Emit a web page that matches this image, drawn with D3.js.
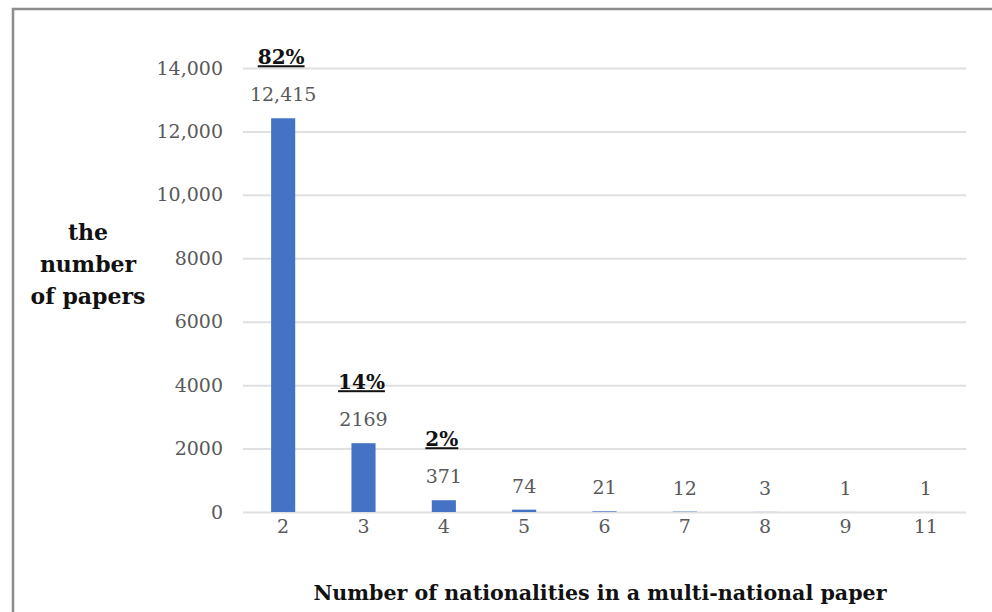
<!DOCTYPE html>
<html>
<head>
<meta charset="utf-8">
<script src="https://cdn.jsdelivr.net/npm/d3@7"></script>
<style>
  body { margin: 0; background: #fff; }
  svg { display: block; }
</style>
</head>
<body>
<div id="chart"></div>
<script>
const categories = ["2", "3", "4", "5", "6", "7", "8", "9", "11"];
const paperCounts = [12415, 2169, 371, 74, 21, 12, 3, 1, 1];
const countLabels = ["12,415", "2169", "371", "74", "21", "12", "3", "1", "1"];
const shareLabels = ["82%", "14%", "2%", "", "", "", "", "", ""];
const yTicks = [0, 2000, 4000, 6000, 8000, 10000, 12000, 14000];
const yTickLabels = ["0", "2000", "4000", "6000", "8000", "10,000", "12,000", "14,000"];
const yTitleLines = ["the", "number", "of papers"];
const xTitle = "Number of nationalities in a multi-national paper";

const width = 992, height = 612;
const plot = { left: 243, right: 966, top: 68, bottom: 512 };
const serif = "'DejaVu Serif', 'Liberation Serif', serif";

const svg = d3.select("#chart").append("svg")
  .attr("width", width)
  .attr("height", height);

// outer frame, runs off the right and bottom edges
svg.append("rect")
  .attr("x", 13).attr("y", 9)
  .attr("width", width).attr("height", height)
  .attr("fill", "none")
  .attr("stroke", "#8c8c8c")
  .attr("stroke-width", 2.5);

const x = d3.scaleBand()
  .domain(categories)
  .range([plot.left, plot.right])
  .paddingInner(0.7)
  .paddingOuter(0.35);

const y = d3.scaleLinear()
  .domain([0, 14000])
  .range([plot.bottom, plot.top]);

// gridlines + y labels
const yAxis = svg.append("g")
  .attr("transform", "translate(" + plot.left + ",0)")
  .call(d3.axisLeft(y).tickValues(yTicks)
    .tickSize(-(plot.right - plot.left))
    .tickPadding(20)
    .tickFormat(function(d, i) { return yTickLabels[i]; }));
yAxis.select(".domain").remove();
yAxis.selectAll(".tick line").attr("stroke", "#e0e0e0").attr("stroke-width", 2);
yAxis.selectAll(".tick text")
  .attr("fill", "#595959")
  .style("font-family", serif)
  .style("font-size", "19px");

// x labels
const xAxis = svg.append("g")
  .attr("transform", "translate(0," + plot.bottom + ")")
  .call(d3.axisBottom(x).tickSize(0).tickPadding(8));
xAxis.select(".domain").remove();
xAxis.selectAll(".tick text")
  .attr("fill", "#595959")
  .style("font-family", serif)
  .style("font-size", "19px");

const data = categories.map(function(c, i) {
  return { cat: c, value: paperCounts[i], label: countLabels[i], share: shareLabels[i] };
});

svg.append("g").selectAll("rect")
  .data(data)
  .enter().append("rect")
    .attr("x", function(d) { return x(d.cat); })
    .attr("y", function(d) { return y(d.value); })
    .attr("width", x.bandwidth())
    .attr("height", function(d) { return y(0) - y(d.value); })
    .attr("fill", "#4472c4");

svg.append("g").selectAll("text")
  .data(data)
  .enter().append("text")
    .attr("x", function(d) { return x(d.cat) + x.bandwidth() / 2; })
    .attr("y", function(d) { return y(d.value) - 17; })
    .attr("text-anchor", "middle")
    .attr("fill", "#595959")
    .style("font-family", serif)
    .style("font-size", "19px")
    .text(function(d) { return d.label; });

// share labels, bold + underlined
svg.append("g").selectAll("text")
  .data(data.filter(function(d) { return d.share; }))
  .enter().append("text")
    .attr("x", function(d) { return x(d.cat) + x.bandwidth() / 2 - 2; })
    .attr("y", function(d) { return y(d.value) - 54; })
    .attr("text-anchor", "middle")
    .attr("fill", "#111")
    .style("font-family", serif)
    .style("font-weight", "bold")
    .style("font-size", "20px")
    .style("text-decoration", "underline")
    .text(function(d) { return d.share; });

// y title
svg.append("text")
  .attr("text-anchor", "middle")
  .attr("fill", "#111")
  .style("font-family", serif)
  .style("font-weight", "bold")
  .style("font-size", "22px")
  .selectAll("tspan")
  .data(yTitleLines)
  .enter().append("tspan")
    .attr("x", 88)
    .attr("y", function(d, i) { return 240 + i * 32; })
    .text(function(d) { return d; });

// x title
svg.append("text")
  .attr("x", 600)
  .attr("y", 600)
  .attr("text-anchor", "middle")
  .attr("fill", "#111")
  .style("font-family", serif)
  .style("font-weight", "bold")
  .style("font-size", "21px")
  .attr("textLength", 573)
  .attr("lengthAdjust", "spacingAndGlyphs")
  .text(xTitle);
</script>
</body>
</html>
